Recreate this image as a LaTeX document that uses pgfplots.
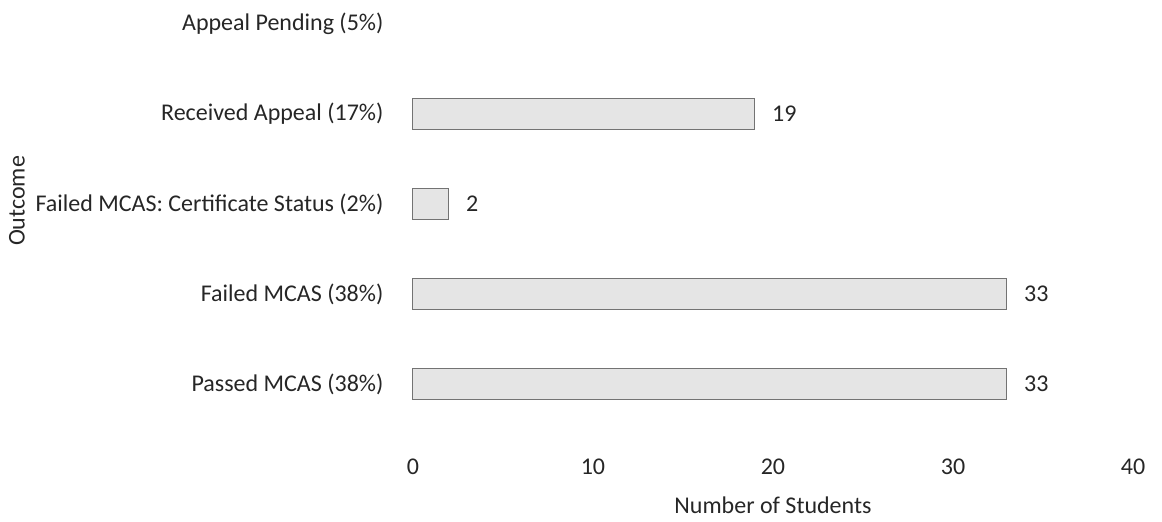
\documentclass[border=0pt]{standalone}
\usepackage{pgfplots}
\pgfplotsset{compat=1.18}
\usepackage{fontspec}
\setmainfont{Carlito}
\begin{document}
\begin{tikzpicture}
\begin{axis}[
  name=ax, at={(0,0)}, anchor=south west,
  x=9pt, y=45pt,
  xmin=0, xmax=40, ymin=-0.6, ymax=4.26,
  xbar, bar width=15.5pt,
  axis line style={draw=none},
  tick style={draw=none},
  xtick={0,10,20,30,40},
  ytick={0,1,2,3,4},
  yticklabels={Passed MCAS (38\%),Failed MCAS (38\%),Failed MCAS: Certificate Status (2\%),Received Appeal (17\%),Appeal Pending (5\%)},
  font=\fontsize{12}{14}\selectfont,
  /pgf/number format/assume math mode=true,
  xticklabel style={yshift=-6.9pt, text=black!85},
  yticklabel style={xshift=-7pt, text=black!85},
  xlabel={Number of Students},
  ylabel={Outcome},
  xlabel style={at={(axis description cs:0.5,0)}, anchor=center, yshift=-33.5pt, text=black!85},
  ylabel style={at={(axis description cs:-0.55,0.542)}, anchor=center, text=black!85},
  nodes near coords,
  nodes near coords style={anchor=west, xshift=5pt, text=black!85, font=\fontsize{12}{14}\selectfont},
  clip=false,
]
\addplot[fill=black!10, draw=black!55, line width=0.5pt] coordinates {(33,0) (33,1) (2,2) (19,3)};
\end{axis}
\pgfresetboundingbox
\useasboundingbox (-206.5pt,-42pt) rectangle (374.5pt,219pt);
\end{tikzpicture}
\end{document}
